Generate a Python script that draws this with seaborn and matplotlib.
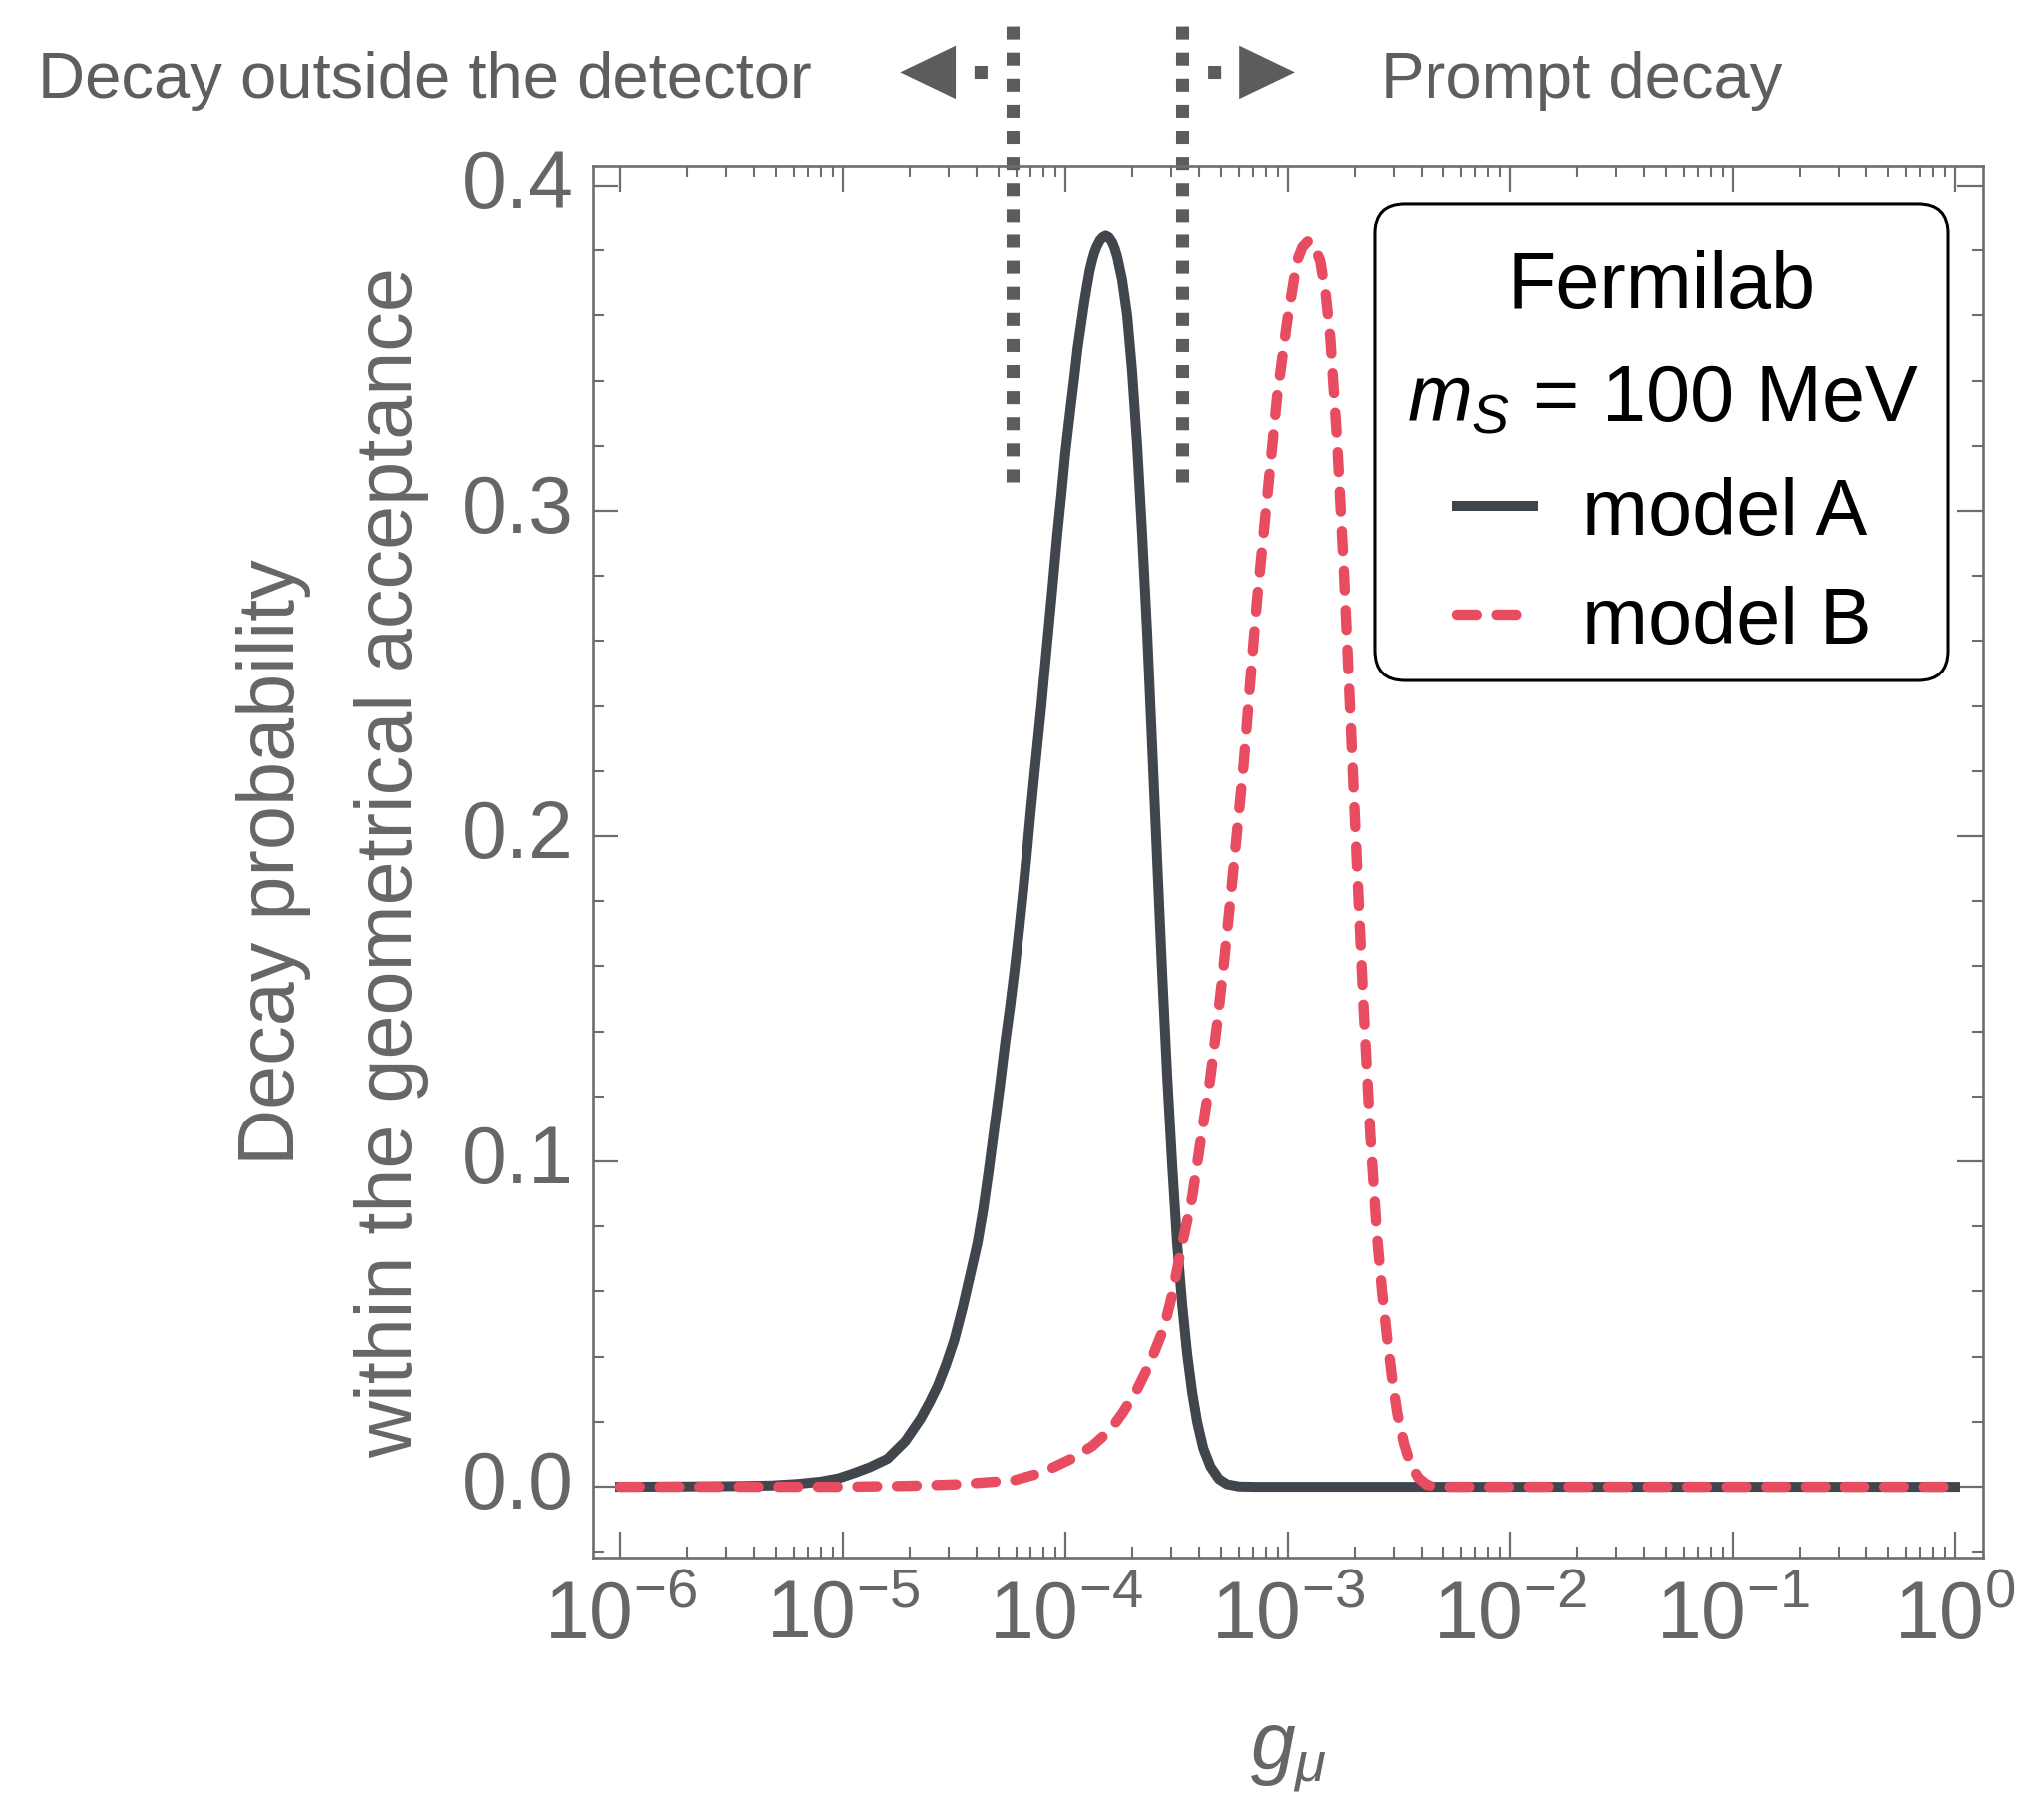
import numpy as np
import pandas as pd
import matplotlib
matplotlib.use("Agg")
import matplotlib.pyplot as plt
import seaborn as sns
from matplotlib.patches import FancyBboxPatch
from matplotlib.ticker import MultipleLocator, FormatStrFormatter, LogLocator, FixedLocator

# ---------------- data ----------------
log_g_A = [-6.0, -5.7, -5.5, -5.32, -5.2, -5.1, -5.02, -4.95, -4.88, -4.80, -4.72, -4.65,
           -4.61, -4.574, -4.537, -4.5, -4.462, -4.425, -4.395, -4.37, -4.345, -4.32, -4.295,
           -4.27, -4.25, -4.23, -4.21, -4.19, -4.173, -4.156, -4.138, -4.12, -4.108, -4.096,
           -4.078, -4.06, -4.048, -4.036, -4.018, -4.0, -3.988, -3.976, -3.96, -3.945, -3.93,
           -3.916, -3.903, -3.89, -3.88, -3.871, -3.86, -3.845, -3.832, -3.819, -3.805, -3.79,
           -3.778, -3.767, -3.745, -3.722, -3.70, -3.677, -3.655, -3.632, -3.61, -3.587,
           -3.565, -3.543, -3.52, -3.498, -3.475, -3.453, -3.43, -3.408, -3.38, -3.348, -3.31,
           -3.274, -3.22, -3.15, -3.0, -2.0, -1.0, 0.0]
prob_A = [0.0, 0.0001, 0.0002, 0.0004, 0.0009, 0.0016, 0.0026, 0.0042, 0.0060, 0.0086, 0.0140,
          0.021, 0.026, 0.031, 0.0375, 0.045, 0.055, 0.066, 0.075, 0.085, 0.097, 0.110, 0.123,
          0.137, 0.147, 0.158, 0.170, 0.183, 0.195, 0.2075, 0.220, 0.232, 0.240, 0.249,
          0.262, 0.275, 0.284, 0.293, 0.305, 0.318, 0.325, 0.332, 0.341, 0.350, 0.357,
          0.3636, 0.369, 0.374, 0.3768, 0.379, 0.381, 0.383, 0.384, 0.3845, 0.384, 0.3825,
          0.3805, 0.378, 0.371, 0.360, 0.343, 0.320, 0.293, 0.262, 0.228, 0.192,
          0.158, 0.127, 0.099, 0.075, 0.056, 0.041, 0.029, 0.020, 0.0118, 0.0062, 0.0024,
          0.0008, 0.0001, 0.0, 0.0, 0.0, 0.0, 0.0]

log_g_B = [-6.0, -5.0, -4.7, -4.5, -4.39, -4.23, -4.1, -3.977, -3.88, -3.797, -3.74, -3.677,
           -3.62, -3.557, -3.52, -3.483, -3.43, -3.393, -3.35, -3.318, -3.288, -3.259, -3.229,
           -3.199, -3.17, -3.139, -3.094, -3.049, -3.004, -2.96, -2.935, -2.907, -2.88, -2.855,
           -2.83, -2.81, -2.78, -2.75, -2.721, -2.691, -2.661, -2.631, -2.601, -2.578, -2.556,
           -2.532, -2.51, -2.48, -2.452, -2.415, -2.377, -2.33, -2.0, -1.0, 0.0]
prob_B = [0.0, 0.0, 0.0003, 0.0007, 0.0012, 0.002, 0.0045, 0.0085, 0.0125, 0.0176, 0.023,
          0.030, 0.038, 0.0488, 0.059, 0.072, 0.089, 0.106, 0.125, 0.1424, 0.1606, 0.1800,
          0.201, 0.222, 0.247, 0.2725, 0.3037, 0.335, 0.358, 0.3766, 0.381, 0.383, 0.381,
          0.3766, 0.366, 0.353, 0.322, 0.283, 0.2387, 0.192, 0.1476, 0.1086, 0.0774, 0.060,
          0.0462, 0.033, 0.0228, 0.0135, 0.0072, 0.0028, 0.0006, 0.0, 0.0, 0.0, 0.0]

# region boundaries (log10 g) and their extent in y
log_bounds = [-4.237, -3.475]
bound_y = [0.309, 0.4507]

series_labels = ["model A", "model B"]
legend_title_lines = ["Fermilab", r"$m_S$ = 100 MeV"]
left_text = "Decay outside the detector"
right_text = "Prompt decay"
y_label = "Decay probability\nwithin the geometrical acceptance"
x_label = r"$g_\mu$"

# ---------------- style ----------------
sns.set_theme(style="ticks")
plt.rcParams.update({
    "font.family": ["Liberation Sans", "DejaVu Sans"],
    "mathtext.fontset": "custom",
    "mathtext.rm": "Liberation Sans",
    "mathtext.it": "Liberation Sans:italic",
    "mathtext.bf": "Liberation Sans:bold",
    "axes.unicode_minus": True,
})

col_A = "#41464d"
col_B = "#e84c60"
col_bound = "#5c5c5c"
col_axis = "#6d6d6d"
col_text = "#666666"

fig = plt.figure(figsize=(20.49, 17.99), dpi=100, facecolor="white")
ax = fig.add_axes([0.28990, 0.13174, 0.68033, 0.77543])
ax.set_facecolor("white")

dfA = pd.DataFrame({"g": np.power(10.0, log_g_A), "p": prob_A})
dfB = pd.DataFrame({"g": np.power(10.0, log_g_B), "p": prob_B})

sns.lineplot(data=dfA, x="g", y="p", ax=ax, color=col_A, lw=7.2,
             label=series_labels[0], solid_capstyle="projecting",
             solid_joinstyle="round", zorder=3)
sns.lineplot(data=dfB, x="g", y="p", ax=ax, color=col_B, lw=7.5,
             linestyle=(0, (1.9, 1.9)), dash_capstyle="round",
             dash_joinstyle="round", label=series_labels[1], zorder=4)

ax.set_xscale("log")
ax.set_xlim(10 ** -6.1256, 10 ** 0.1256)
ax.set_ylim(-0.02175, 0.4061)

# region boundaries (dotted, extend above frame)
for xb in log_bounds:
    ax.vlines(10 ** xb, bound_y[0], bound_y[1], colors=col_bound, lw=9.4,
              linestyles=[(0, (1, 1))], clip_on=False, zorder=2)

# arrows
ya = 0.4348
hh = 0.0082
for xb, d in zip(log_bounds, [-1, 1]):
    x_base = xb + d * 0.256
    x_tip = x_base + d * 0.25
    ax.plot([10 ** xb, 10 ** x_base], [ya, ya], color=col_bound, lw=9.4,
            linestyle=(1, (1, 1.96)), dash_capstyle="butt", clip_on=False)
    ax.fill([10 ** x_base, 10 ** x_tip, 10 ** x_base], [ya + hh, ya, ya - hh],
            color=col_bound, lw=0, clip_on=False)

fig.text(0.0185, 0.9454, left_text, fontsize=47, color="#5e5e5e", ha="left", va="baseline")
fig.text(0.6755, 0.9454, right_text, fontsize=47, color="#5e5e5e", ha="left", va="baseline")

# ticks & spines
decades = np.arange(-6, 0)
minor_x = [m * 10.0 ** d for d in decades for m in range(2, 10)]
ax.yaxis.set_major_locator(MultipleLocator(0.1))
ax.yaxis.set_minor_locator(MultipleLocator(0.02))
ax.yaxis.set_major_formatter(FormatStrFormatter("%.1f"))
ax.xaxis.set_major_locator(LogLocator(base=10, numticks=20))
ax.xaxis.set_minor_locator(FixedLocator(minor_x))
ax.tick_params(which="both", direction="in", top=True, right=True, color=col_axis,
               labelcolor=col_text)
ax.tick_params(which="major", length=18.7, width=1.6)
ax.tick_params(which="minor", length=7.9, width=1.5)
ax.tick_params(axis="y", which="major", labelsize=58, pad=13.7)
ax.tick_params(axis="x", which="major", labelsize=58, pad=15.0)
ax.tick_params(axis="x", which="minor", labelbottom=False)
for s in ax.spines.values():
    s.set_color(col_axis)
    s.set_linewidth(1.9)
    s.set_visible(True)

ax.set_ylabel(y_label, fontsize=57, color=col_text, linespacing=1.75)
ax.yaxis.set_label_coords(-0.1176, 0.5)
ax.set_xlabel(x_label, fontsize=58, color=col_text)
ax.xaxis.set_label_coords(0.5, -0.1150)

# legend frame + title lines + entries
frame = FancyBboxPatch((0.5624, 0.6301), 0.9749 - 0.5624, 0.9728 - 0.6301,
                       boxstyle="round,pad=0,rounding_size=0.0215",
                       transform=ax.transAxes, facecolor="white", edgecolor="black",
                       lw=2.2, zorder=6, clip_on=False)
ax.add_patch(frame)
ax.text(0.7687, 0.8982, legend_title_lines[0], transform=ax.transAxes, fontsize=57,
        color="black", ha="center", va="baseline", zorder=7)
ax.text(0.7697, 0.8172, legend_title_lines[1], transform=ax.transAxes, fontsize=57,
        color="black", ha="center", va="baseline", zorder=7)
leg = ax.legend(loc="upper left", bbox_to_anchor=(0.6220, 0.7771), frameon=False,
                fontsize=57, borderpad=0, borderaxespad=0, handlelength=0.96,
                handletextpad=0.62, labelspacing=0.43)
leg.set_zorder(8)
for t in leg.get_texts():
    t.set_color("black")

fig.canvas.draw()
for lbl in ax.get_yticklabels():
    lbl.set_verticalalignment("center")

fig.savefig("out.png", dpi=100, facecolor="white")
